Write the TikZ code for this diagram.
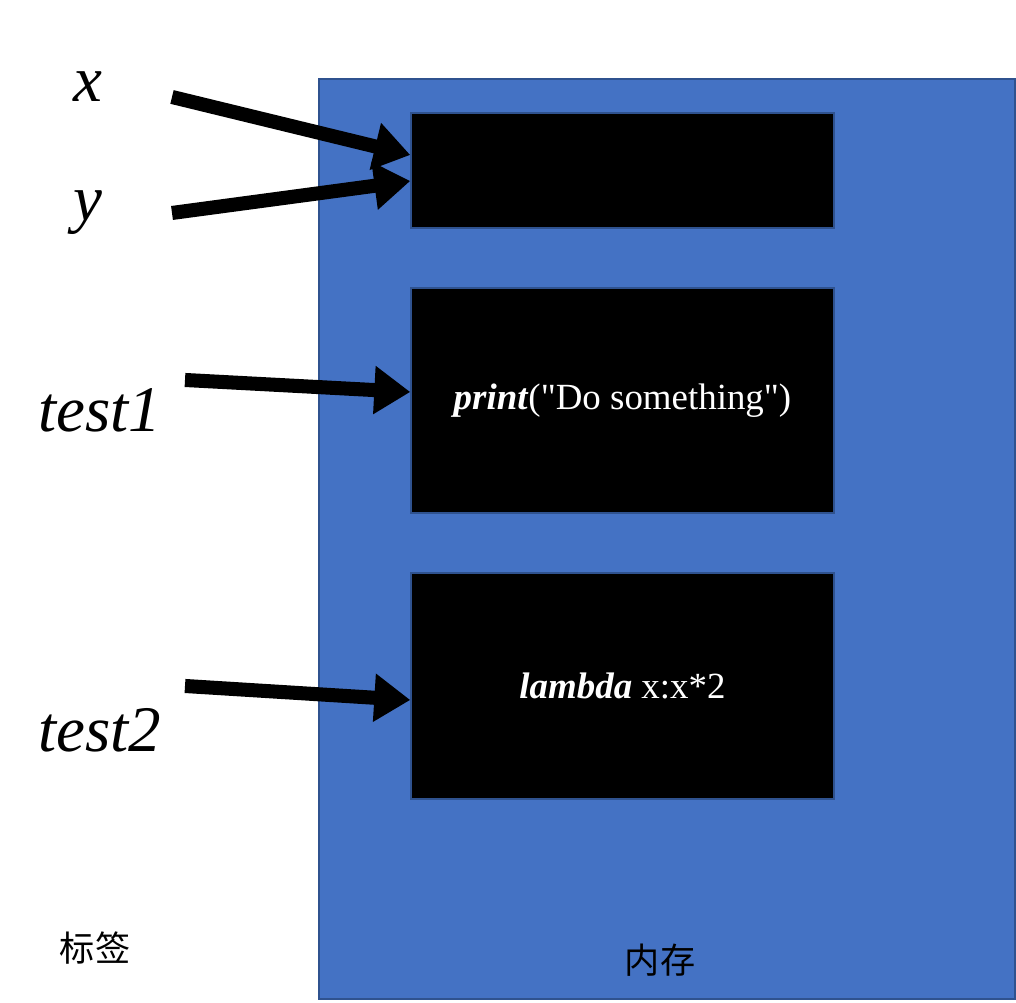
\documentclass[tikz,border=0pt]{standalone}
\usepackage{fontspec}
\setmainfont{Liberation Serif}
\newfontfamily\cjk{Noto Sans CJK SC}
\usetikzlibrary{arrows.meta}
\usetikzlibrary{positioning, calc}
\definecolor{speicher}{RGB}{68, 114, 196}
\definecolor{rand}{RGB}{47, 82, 143}

\begin{document}
\begin{tikzpicture}[
    zelle/.style={draw=rand, fill=black, text=white, minimum width=4.23cm, inner sep=0pt, font=\fontsize{10.5}{12}\selectfont},
    marke/.style={font=\fontsize{18.5}{22}\selectfont\itshape},
    zeiger/.style={line width=4pt, -{Triangle[length=0.36cm, width=0.46cm]}},
    hinweis/.style={font=\cjk\fontsize{10}{12}\selectfont}
]

    \useasboundingbox (0,0) rectangle (10.16,10.03);

    % Speicherbereich
    \node[draw=rand, fill=speicher, minimum width=6.96cm, minimum height=9.2cm, inner sep=0pt] (speicher) at (6.67,4.64) {};

    \node[zelle, minimum height=1.15cm] (zelle1) at (6.225,8.325) {};
    \node[zelle, minimum height=2.25cm] (zelle2) at (6.225,6.025) {\textbf{\textit{print}}(\textquotedbl Do something\textquotedbl)};
    \node[zelle, minimum height=2.26cm] (zelle3) at (6.225,3.17) {\textbf{\textit{lambda}} x:x*2};

    % Marken
    \node[marke] (mx) at (0.88,9.16) {x};
    \node[marke] (my) at (0.88,7.90) {y};
    \node[marke] (mtest1) at (1.00,5.93) {test1};
    \node[marke] (mtest2) at (1.00,2.73) {test2};

    \coordinate (sx) at (1.72,9.06);
    \coordinate (sy) at (1.72,7.90);
    \coordinate (s1) at (1.85,6.23);
    \coordinate (s2) at (1.85,3.17);

    \draw[zeiger] (sx) -- ([yshift=0.155cm]zelle1.west);
    \draw[zeiger] (sy) -- ([yshift=-0.105cm]zelle1.west);
    \draw[zeiger] (s1) -- ([yshift=0.085cm]zelle2.west);
    \draw[zeiger] (s2) -- ([yshift=-0.14cm]zelle3.west);

    \node[hinweis] (lbl) at (0.95,0.55) {标签};
    \node[hinweis] (mem) at (6.60,0.43) {内存};

\end{tikzpicture}
\end{document}
